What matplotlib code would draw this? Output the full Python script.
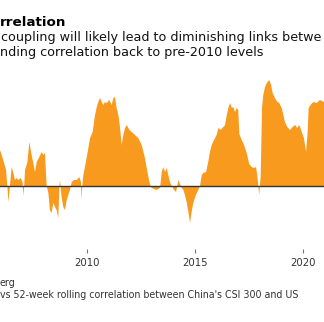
import matplotlib
matplotlib.use("Agg")
import matplotlib.pyplot as plt
import numpy as np

# 52-week rolling correlation (decimal year, correlation)
years = [2005.97, 2006.12, 2006.25, 2006.31, 2006.36, 2006.43, 2006.51, 2006.59, 2006.66,
         2006.74, 2006.82, 2006.93, 2007.02, 2007.05, 2007.09, 2007.13, 2007.24, 2007.33,
         2007.41, 2007.51, 2007.59, 2007.67, 2007.79, 2007.90, 2007.98, 2008.05, 2008.13,
         2008.21, 2008.28, 2008.36, 2008.44, 2008.52, 2008.59, 2008.67, 2008.72, 2008.75,
         2008.82, 2008.90, 2008.98, 2009.06, 2009.13, 2009.21, 2009.29, 2009.40, 2009.52,
         2009.64, 2009.72, 2009.75, 2009.78, 2009.83, 2009.98, 2010.14, 2010.26, 2010.37,
         2010.45, 2010.52, 2010.60, 2010.68, 2010.75, 2010.83, 2010.91, 2011.03, 2011.14,
         2011.22, 2011.29, 2011.37, 2011.45, 2011.53, 2011.60, 2011.68, 2011.76, 2011.84,
         2011.96, 2012.07, 2012.22, 2012.37, 2012.53, 2012.68, 2012.84, 2012.91, 2012.99,
         2013.22, 2013.38, 2013.46, 2013.53, 2013.61, 2013.69, 2013.76, 2013.84, 2013.92,
         2014.03, 2014.12, 2014.23, 2014.30, 2014.38, 2014.46, 2014.53, 2014.61, 2014.69,
         2014.77, 2014.84, 2014.92, 2015.04, 2015.15, 2015.23, 2015.31, 2015.38, 2015.51,
         2015.61, 2015.69, 2015.77, 2015.88, 2016.00, 2016.08, 2016.19, 2016.31, 2016.39,
         2016.47, 2016.54, 2016.62, 2016.70, 2016.77, 2016.85, 2016.93, 2017.00, 2017.05,
         2017.16, 2017.27, 2017.39, 2017.51, 2017.62, 2017.73, 2017.82, 2017.88, 2017.93,
         2017.97, 2018.04, 2018.10, 2018.16, 2018.24, 2018.32, 2018.44, 2018.52, 2018.59,
         2018.70, 2018.81, 2018.90, 2019.01, 2019.09, 2019.16, 2019.27, 2019.40, 2019.52,
         2019.63, 2019.73, 2019.83, 2019.94, 2020.04, 2020.14, 2020.21, 2020.26, 2020.35,
         2020.47, 2020.63, 2020.78, 2020.97]
corr = [0.18, 0.13, 0.08, 0.0, -0.08, 0.0, 0.095, 0.065, 0.03,
        0.04, 0.03, 0.04, 0.015, -0.05, 0.0, 0.08, 0.12, 0.22,
        0.17, 0.115, 0.07, 0.12, 0.145, 0.17, 0.155, 0.165, 0.0,
        -0.035, -0.12, -0.135, -0.085, -0.105, -0.12, -0.16, 0.0, 0.03,
        -0.055, -0.105, -0.12, -0.07, -0.045, -0.02, 0.02, 0.03, 0.03,
        0.045, 0.02, -0.07, 0.0, 0.055, 0.14, 0.24, 0.27, 0.355,
        0.395, 0.42, 0.44, 0.42, 0.405, 0.42, 0.415, 0.43, 0.405,
        0.44, 0.445, 0.39, 0.355, 0.29, 0.205, 0.255, 0.29, 0.305,
        0.28, 0.27, 0.255, 0.24, 0.205, 0.14, 0.045, 0.01, -0.01,
        -0.02, -0.01, 0.07, 0.095, 0.07, 0.09, 0.055, 0.02, 0.0,
        -0.02, -0.03, 0.03, 0.01, -0.01, -0.02, -0.045, -0.08, -0.13,
        -0.185, -0.13, -0.085, -0.045, -0.02, 0.0, 0.055, 0.065, 0.07,
        0.12, 0.17, 0.205, 0.23, 0.255, 0.29, 0.28, 0.295, 0.305,
        0.355, 0.39, 0.415, 0.39, 0.395, 0.37, 0.39, 0.38, 0.26,
        0.23, 0.205, 0.165, 0.11, 0.095, 0.09, 0.095, 0.055, 0.0,
        -0.045, 0.05, 0.39, 0.455, 0.495, 0.515, 0.53, 0.505, 0.465,
        0.44, 0.42, 0.415, 0.39, 0.355, 0.32, 0.295, 0.28, 0.295,
        0.305, 0.29, 0.305, 0.27, 0.24, 0.17, 0.265, 0.39, 0.405,
        0.42, 0.415, 0.43, 0.42]
tick_years = [2010, 2015, 2020]

W, H = 324, 322
fig = plt.figure(figsize=(W / 100, H / 100), dpi=100)
ax = fig.add_axes([0, 1 - 249 / H, 1, 174 / H])

x = np.array(years)
y = np.array(corr)
ax.fill_between(x, y, 0, color="#F89A1E", lw=0)
ax.axhline(0, color="#333333", lw=1.0)

ax.set_xlim(2005.97, 2020.97)
ax.set_ylim(-0.315, 0.555)
ax.set_xticks(tick_years)
ax.set_xticklabels([str(t) for t in tick_years])
ax.set_yticks([])
ax.tick_params(axis="x", length=3, width=0.8, color="#777777", pad=3.5,
               labelsize=7.3, labelcolor="#333333")
for s in ax.spines.values():
    s.set_visible(False)
ax.patch.set_alpha(0)

fig.text(0.0, 1 - 26 / H, "rrelation", fontsize=9.7, fontweight="bold",
         color="black", va="baseline", ha="left")
fig.text(0.003, 1 - 41 / H, "coupling will likely lead to diminishing links betwe",
         fontsize=9.2, color="#111111", va="baseline", ha="left")
fig.text(0.0, 1 - 56 / H, "nding correlation back to pre-2010 levels",
         fontsize=9.2, color="#111111", va="baseline", ha="left")
fig.text(0.0, 1 - 286 / H, "erg", fontsize=6.85, color="#333333",
         va="baseline", ha="left")
fig.text(0.0, 1 - 298 / H, "vs 52-week rolling correlation between China's CSI 300 and US",
         fontsize=6.85, color="#333333", va="baseline", ha="left")

fig.savefig("out.png", dpi=100)
